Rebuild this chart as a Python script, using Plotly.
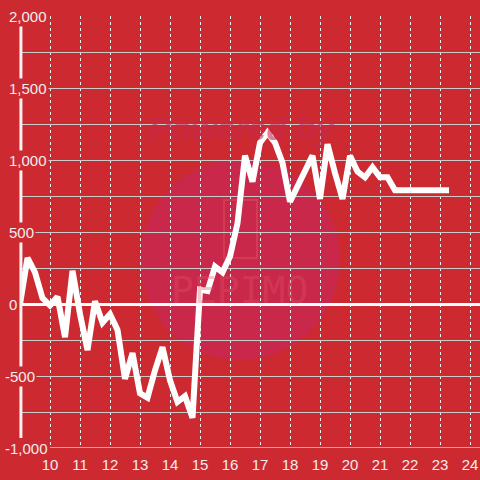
import plotly.graph_objects as go

hours = [9.00, 9.25, 9.50, 9.75, 10.00, 10.25, 10.50, 10.75, 11.00, 11.25, 11.50, 11.75,
         12.00, 12.25, 12.50, 12.75, 13.00, 13.25, 13.50, 13.75, 14.00, 14.25, 14.50, 14.75,
         15.00, 15.25, 15.50, 15.75, 16.00, 16.25, 16.50, 16.75, 17.00, 17.25, 17.50, 17.75,
         18.00, 18.25, 18.50, 18.75, 19.00, 19.25, 19.50, 19.75, 20.00, 20.25, 20.50, 20.75,
         21.00, 21.25, 21.50, 21.75, 22.00, 22.25, 22.50, 22.75, 23.00, 23.30]
values = [0, 320, 220, 40, -10, 50, -230, 230, -70, -320, 20, -130,
          -70, -180, -520, -340, -620, -650, -460, -300, -530, -680, -640, -790,
          100, 90, 260, 220, 330, 560, 1030, 850, 1120, 1190, 1120, 980,
          710, 810, 920, 1030, 730, 1110, 910, 730, 1030, 920, 880, 950,
          880, 880, 790, 790, 790, 790, 790, 790, 790, 790]

x_ticks = [10, 11, 12, 13, 14, 15, 16, 17, 18, 19, 20, 21, 22, 23, 24]
y_label_vals = [2000, 1500, 1000, 500, 0, -500, -1000]
y_label_text = ["2,000", "1,500", "1,000", "500", "0", "-500", "-1,000"]
y_grid_vals = [2000, 1750, 1500, 1250, 1000, 750, 500, 250, 0, -250, -500, -750]

BG = "#cc2a30"
FONT = "Liberation Sans"

fig = go.Figure()
fig.add_trace(go.Scatter(x=hours, y=values, mode="lines",
                         line=dict(color="white", width=6), hoverinfo="skip"))

shapes = []
# watermark circle
shapes.append(dict(type="circle", xref="x", yref="y", x0=13.0, x1=19.667, y0=-389, y1=1000,
                   fillcolor="#c9284a", line=dict(width=0), layer="below"))
# phone icon
shapes.append(dict(type="rect", xref="x", yref="y", x0=15.8, x1=16.9, y0=319, y1=722,
                   line=dict(color="rgba(225,85,105,0.4)", width=2), layer="below"))
# y axis line
shapes.append(dict(type="line", xref="paper", yref="y", x0=0.002, x1=0.002, y0=-930, y1=1945,
                   line=dict(color="#f2f2f2", width=3)))
# bottom axis line
shapes.append(dict(type="line", xref="x", yref="y", x0=10, x1=24.4, y0=-1000, y1=-1000,
                   line=dict(color="#d0d0d0", width=1.5)))

annotations = []
for v, t in zip(y_label_vals, y_label_text):
    xpx = 2.5 if t.startswith("-") else 7
    annotations.append(dict(x=(xpx - 20) / 460, xref="paper", y=v, yref="y", text=t,
                            showarrow=False, xanchor="left", yanchor="middle",
                            font=dict(family=FONT, size=15, color="#eeeeee"),
                            bgcolor=BG, borderpad=1))
annotations.append(dict(x=16.43, xref="x", y=1220, yref="y", text="<b><i>Powered by</i></b>",
                        showarrow=False, font=dict(family=FONT, size=33, color="rgba(200,40,80,0.6)")))
annotations.append(dict(x=16.3, xref="x", y=95, yref="y", text="PEPIMO",
                        showarrow=False, font=dict(family="DejaVu Sans Mono", size=38,
                                                   color="rgba(225,85,105,0.35)")))

fig.update_layout(
    width=480, height=480,
    paper_bgcolor=BG, plot_bgcolor="rgba(0,0,0,0)",
    margin=dict(l=20, r=0, t=16, b=32),
    showlegend=False,
    shapes=shapes, annotations=annotations,
    xaxis=dict(range=[9, 9 + 460 / 30], tickvals=x_ticks, ticktext=[str(v) for v in x_ticks],
               showgrid=True, gridcolor="#f0f0f0", griddash="dot", gridwidth=1,
               zeroline=False, showline=False, ticks="", ticklabelstandoff=6,
               tickfont=dict(family=FONT, size=15, color="#eeeeee")),
    yaxis=dict(range=[-1000, 2000], tickvals=y_grid_vals, showticklabels=False,
               showgrid=True, gridcolor="#cccccc", gridwidth=1,
               zeroline=True, zerolinecolor="#ffffff", zerolinewidth=3,
               showline=False, ticks=""),
)
fig.write_html("out.html", config={"displayModeBar": False},
               post_script="document.body.style.margin='0';document.body.style.padding='0';document.body.style.overflow='hidden';")
